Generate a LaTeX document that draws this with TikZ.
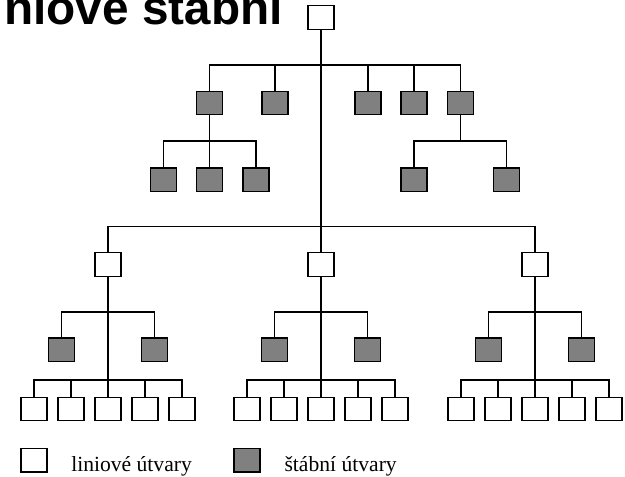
\documentclass[tikz,border=0pt]{standalone}
\usepackage{fontspec}
\setmainfont{Liberation Serif}
\newfontfamily\headfont{Liberation Sans}

\begin{document}
\begin{tikzpicture}[x=0.75pt,y=-0.75pt,
  lin/.style={draw,fill=white,line width=0.9pt,minimum width=19.5pt,minimum height=17.5pt,inner sep=0pt},
  stab/.style={lin,fill=gray},
  conn/.style={line width=0.9pt}]
\useasboundingbox (0,0) rectangle (625,477);
% title, cut off by the page edge
\node[anchor=base east,inner sep=0pt,font=\headfont\bfseries\fontsize{35.8}{42}\selectfont] (title) at (283,25) {liniové štábní};
% top of the tree
\node[lin] (root) at (321,17.5) {};
\coordinate (bar1) at (321,65);
\coordinate (main) at (321,226.7);
\foreach \i/\x in {1/209.7,2/275,3/368,4/414,5/460.5}{
	\node[stab] (s\i) at (\x,103) {};
	\draw[conn] (s\i.north) |- (bar1);}
\foreach \i/\x in {1/163.7,2/209.7,3/256,4/414,5/506.7}{
	\node[stab] (t\i) at (\x,179.7) {};}
\coordinate (k1) at (209.7,141);
\coordinate (k2) at (460.5,141);
\draw[conn] (s1.south) -- (t2.north);
\draw[conn] (t1.north) |- (k1);
\draw[conn] (t3.north) |- (k1);
\draw[conn] (s5.south) -- (k2);
\draw[conn] (t4.north) |- (k2);
\draw[conn] (t5.north) |- (k2);
% three line groups
\foreach \g/\cx in {a/108,b/321,c/535}{
	\node[lin] (\g) at (\cx,264.5) {};
	\draw[conn] (\g.north) |- (main);
	\coordinate (\g-k1) at (\cx,312);
	\coordinate (\g-k2) at (\cx,380);
	\node[stab] (\g-s1) at (\cx-46.5,349.7) {};
	\node[stab] (\g-s2) at (\cx+46.5,349.7) {};
	\draw[conn] (\g-s1.north) |- (\g-k1);
	\draw[conn] (\g-s2.north) |- (\g-k1);
	\foreach \i/\dx in {1/-74,2/-37,3/0,4/37,5/74}{
		\node[lin] (\g-u\i) at (\cx+\dx,409.2) {};
		\draw[conn] (\g-u\i.north) |- (\g-k2);}
	\draw[conn] (\g.south) -- (\g-u3.north);
}
\draw[conn] (root.south) -- (b.north);
% legend
\node[lin] (keylin) at (34,460.3) {};
\node[stab] (keystab) at (247,460.3) {};
\node[anchor=base west,inner sep=0pt,font=\fontsize{16.2}{19}\selectfont] (txtlin) at (71,471) {liniové útvary};
\node[anchor=base west,inner sep=0pt,font=\fontsize{16.2}{19}\selectfont] (txtstab) at (284.3,471) {štábní útvary};
\end{tikzpicture}
\end{document}
